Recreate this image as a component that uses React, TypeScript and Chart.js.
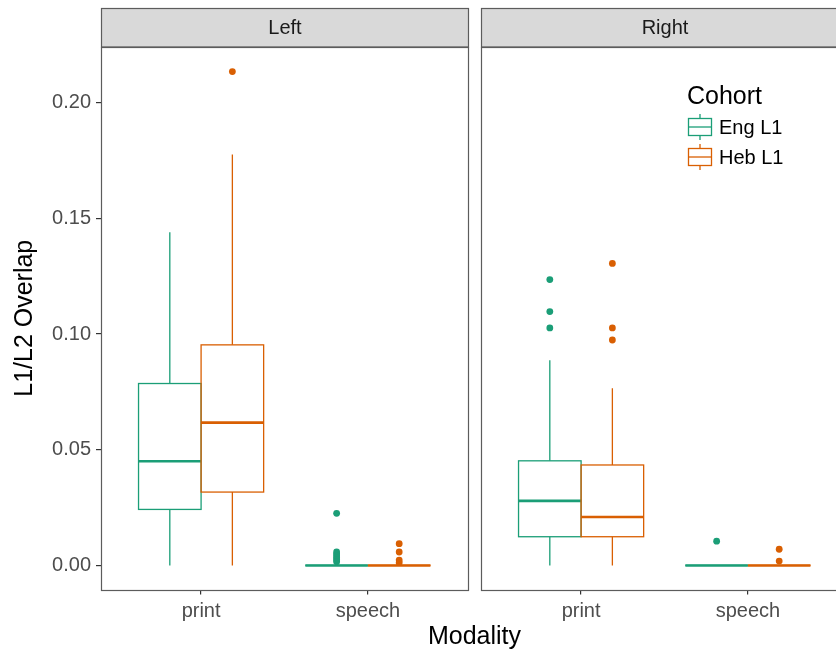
import React, { useEffect, useRef } from "react";
import { Chart, registerables } from "chart.js";

Chart.register(...registerables);

// ---- data ----
const facets = ["Left", "Right"];
const modalities = ["print", "speech"];
const cohorts = ["Eng L1", "Heb L1"];
const cohortColors = ["#1b9e77", "#d95f02"];
const yTicks = [0, 0.05, 0.1, 0.15, 0.2];

// groups order: Left-print, Left-speech, Right-print, Right-speech
const engLower = [0, 0, 0, 0];
const engQ1 = [0.0242, 0, 0.0124, 0];
const engMedian = [0.045, 0, 0.0279, 0];
const engQ3 = [0.0786, 0, 0.0452, 0];
const engUpper = [0.144, 0, 0.0887, 0];
const engOutliers = [
  [],
  [0.0225, 0.0058, 0.0049, 0.0041, 0.0033, 0.0025, 0.0016],
  [0.1235, 0.1097, 0.1026],
  [0.0105],
];

const hebLower = [0, 0, 0, 0];
const hebQ1 = [0.0317, 0, 0.0124, 0];
const hebMedian = [0.0617, 0, 0.0209, 0];
const hebQ3 = [0.0953, 0, 0.0434, 0];
const hebUpper = [0.1776, 0, 0.0766, 0];
const hebOutliers = [
  [0.2134],
  [0.0094, 0.0058, 0.0023, 0.0012],
  [0.1305, 0.1026, 0.0974],
  [0.007, 0.0019],
];

const stats = [
  { lower: engLower, q1: engQ1, median: engMedian, q3: engQ3, upper: engUpper, outliers: engOutliers },
  { lower: hebLower, q1: hebQ1, median: hebMedian, q3: hebQ3, upper: hebUpper, outliers: hebOutliers },
];

// ---- layout helpers (in x-scale units) ----
const EXPAND = 0.6;
const PANEL_W = 1 + 2 * EXPAND; // 2.2
const GAP = 0.078;
const DODGE = 0.1875;
const HALF = 0.1875;
const FONT = "'Liberation Sans', Arial, Helvetica, sans-serif";

const facetOffset = (f: number) => f * (PANEL_W + GAP);
const groupCenter = (g: number) => facetOffset(Math.floor(g / 2)) + (g % 2);
const xTickValues = [0, 1, facetOffset(1), facetOffset(1) + 1];
const xTickLabels = [modalities[0], modalities[1], modalities[0], modalities[1]];

const facetPlugin = {
  id: "facets",
  beforeDatasetsDraw(chart: any) {
    const { ctx, scales } = chart;
    const x = scales.x;
    const y = scales.y;
    const top = chart.chartArea.top;
    const bottom = chart.chartArea.bottom;
    ctx.save();
    // strips
    facets.forEach((name, f) => {
      const l = Math.round(x.getPixelForValue(facetOffset(f) - EXPAND)) + 0.5;
      const r = Math.round(x.getPixelForValue(facetOffset(f) + 1 + EXPAND)) + 0.5;
      const st = 8.5;
      ctx.fillStyle = "#d9d9d9";
      ctx.fillRect(l, st, r - l, top - st);
      ctx.strokeStyle = "#5c5c5c";
      ctx.lineWidth = 1.2;
      ctx.strokeRect(l, st, r - l, top - st);
      ctx.fillStyle = "#1a1a1a";
      ctx.font = `20px ${FONT}`;
      ctx.textAlign = "center";
      ctx.textBaseline = "middle";
      ctx.fillText(name, (l + r) / 2, (st + top) / 2 + 1);
    });
    // boxes
    stats.forEach((s, ci) => {
      const color = cohortColors[ci];
      ctx.strokeStyle = color;
      for (let g = 0; g < s.q1.length; g++) {
        const c = groupCenter(g) + (ci === 0 ? -DODGE : DODGE);
        const xl = x.getPixelForValue(c - HALF);
        const xr = x.getPixelForValue(c + HALF);
        const xc = x.getPixelForValue(c);
        const yLo = y.getPixelForValue(s.lower[g]);
        const yQ1 = y.getPixelForValue(s.q1[g]);
        const yMed = y.getPixelForValue(s.median[g]);
        const yQ3 = y.getPixelForValue(s.q3[g]);
        const yHi = y.getPixelForValue(s.upper[g]);
        ctx.lineWidth = 1.3;
        ctx.beginPath();
        ctx.moveTo(xc, yHi);
        ctx.lineTo(xc, yQ3);
        ctx.moveTo(xc, yQ1);
        ctx.lineTo(xc, yLo);
        ctx.stroke();
        ctx.strokeRect(xl, yQ3, xr - xl, yQ1 - yQ3);
        ctx.lineWidth = 2.6;
        ctx.beginPath();
        ctx.moveTo(xl, yMed);
        ctx.lineTo(xr, yMed);
        ctx.stroke();
      }
    });
    ctx.restore();
  },
  afterDatasetsDraw(chart: any) {
    const { ctx, scales } = chart;
    const x = scales.x;
    const top = chart.chartArea.top;
    const bottom = chart.chartArea.bottom;
    ctx.save();
    ctx.strokeStyle = "#5c5c5c";
    ctx.lineWidth = 1.2;
    facets.forEach((_, f) => {
      const l = Math.round(x.getPixelForValue(facetOffset(f) - EXPAND)) + 0.5;
      const r = Math.round(x.getPixelForValue(facetOffset(f) + 1 + EXPAND)) + 0.5;
      ctx.strokeRect(l, Math.round(top) + 0.5, r - l, Math.round(bottom) - Math.round(top));
    });
    // legend inside right panel
    const lx = 687;
    ctx.fillStyle = "#000";
    ctx.font = `25px ${FONT}`;
    ctx.textAlign = "left";
    ctx.textBaseline = "middle";
    ctx.fillText("Cohort", lx, 97);
    cohorts.forEach((name, i) => {
      const cy = 127 + i * 30;
      const color = cohortColors[i];
      ctx.strokeStyle = color;
      ctx.lineWidth = 1.3;
      const kx = lx + 1.5;
      const kw = 23;
      ctx.beginPath();
      ctx.moveTo(kx + kw / 2, cy - 13);
      ctx.lineTo(kx + kw / 2, cy - 8.5);
      ctx.moveTo(kx + kw / 2, cy + 8.5);
      ctx.lineTo(kx + kw / 2, cy + 13);
      ctx.stroke();
      ctx.strokeRect(kx, cy - 8.5, kw, 17);
      ctx.beginPath();
      ctx.moveTo(kx, cy);
      ctx.lineTo(kx + kw, cy);
      ctx.stroke();
      ctx.fillStyle = "#000";
      ctx.font = `20px ${FONT}`;
      ctx.fillText(name, 719, cy + 1);
    });
    ctx.restore();
  },
};

export default function App() {
  const ref = useRef<HTMLCanvasElement | null>(null);
  useEffect(() => {
    if (!ref.current) return;
    const datasets = stats.map((s, ci) => ({
      type: "scatter" as const,
      label: cohorts[ci],
      data: s.outliers.flatMap((vals, g) =>
        vals.map((v) => ({ x: groupCenter(g) + (ci === 0 ? -DODGE : DODGE), y: v }))
      ),
      backgroundColor: cohortColors[ci],
      borderWidth: 0,
      pointRadius: 3.4,
    }));
    const chart = new Chart(ref.current, {
      type: "scatter",
      data: { datasets },
      options: {
        animation: false,
        responsive: false,
        events: [],
        layout: { padding: { top: 47, left: 0, right: 2, bottom: 0 } },
        plugins: { legend: { display: false }, tooltip: { enabled: false } },
        scales: {
          x: {
            type: "linear",
            min: -EXPAND,
            max: facetOffset(1) + 1 + EXPAND,
            border: { display: false },
            grid: { drawOnChartArea: false, drawTicks: true, tickLength: 5, color: "#333333", lineWidth: 1.2 },
            afterBuildTicks: (scale: any) => {
              scale.ticks = xTickValues.map((v) => ({ value: v }));
            },
            afterFit: (scale: any) => {
              scale.height = 654 - 589.5;
            },
            ticks: {
              autoSkip: false,
              maxRotation: 0,
              padding: 5,
              color: "#4d4d4d",
              font: { family: FONT, size: 20 },
              callback: (_v: any, i: number) => xTickLabels[i],
            },
            title: {
              display: true,
              text: "Modality",
              color: "#000",
              font: { family: FONT, size: 25 },
              padding: { top: 0, bottom: 2 },
            },
          },
          y: {
            type: "linear",
            min: -0.0104,
            max: 0.224,
            border: { display: false },
            grid: { drawOnChartArea: false, drawTicks: true, tickLength: 5, color: "#333333", lineWidth: 1.2 },
            afterBuildTicks: (scale: any) => {
              scale.ticks = yTicks.map((v) => ({ value: v }));
            },
            afterFit: (scale: any) => {
              scale.width = 101;
            },
            ticks: {
              padding: 5,
              color: "#4d4d4d",
              font: { family: FONT, size: 20 },
              callback: (v: any) => Number(v).toFixed(2),
            },
            title: {
              display: true,
              text: "L1/L2 Overlap",
              color: "#000",
              font: { family: FONT, size: 25 },
              padding: { top: 10, bottom: 0 },
            },
          },
        },
      },
      plugins: [facetPlugin],
    } as any);
    return () => chart.destroy();
  }, []);
  return (
    <div
      style={{
        position: "fixed",
        left: 0,
        top: 0,
        width: 836,
        height: 654,
        overflow: "hidden",
        background: "#fff",
      }}
    >
      <canvas ref={ref} width={852} height={654} style={{ display: "block", width: 852, height: 654 }} />
    </div>
  );
}
